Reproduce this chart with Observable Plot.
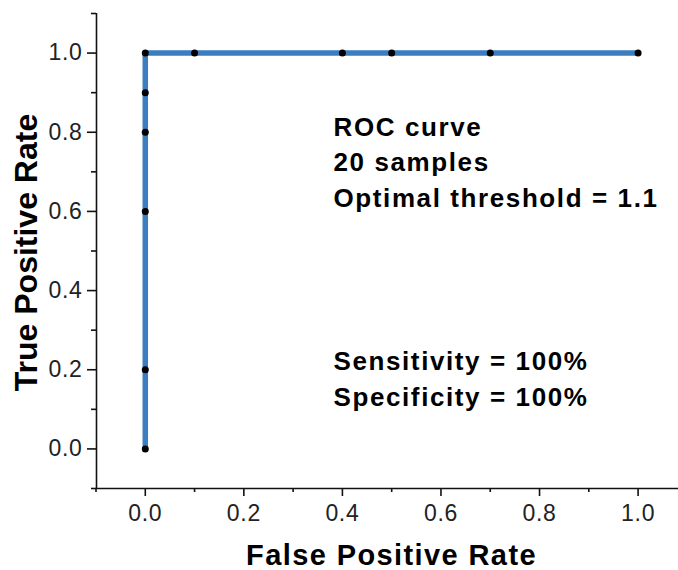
<!DOCTYPE html>
<html>
<head>
<meta charset="utf-8">
<script src="https://cdn.jsdelivr.net/npm/d3@7"></script>
<script src="https://cdn.jsdelivr.net/npm/@observablehq/plot@0.6"></script>
<style>
  html, body { margin: 0; padding: 0; background: #fff; }
  svg g[aria-label$="tick label"] text { letter-spacing: 0.7px; }
  svg text[aria-label="x title"] { letter-spacing: 1.4px; }
  svg text[aria-label="annotation"] { letter-spacing: 1.6px; }
</style>
</head>
<body>
<div id="chart"></div>
<script>
// ROC operating points (false positive rate, true positive rate)
const fpr = [0, 0, 0, 0, 0, 0, 0.1, 0.4, 0.5, 0.7, 1.0];
const tpr = [0, 0.2, 0.6, 0.8, 0.9, 1.0, 1.0, 1.0, 1.0, 1.0, 1.0];

// Axis ticks
const majorTicks = [0, 0.2, 0.4, 0.6, 0.8, 1.0];
const minorTicks = [-0.1, 0.1, 0.3, 0.5, 0.7, 0.9, 1.1];
const xDomain = [-0.099, 1.082];
const yDomain = [-0.1, 1.1];

// Text
const xTitle = "False Positive Rate";
const yTitle = "True Positive Rate";
const infoLines = ["ROC curve", "20 samples", "Optimal threshold = 1.1"];
const resultLines = ["Sensitivity = 100%", "Specificity = 100%"];

const points = fpr.map((x, i) => ({fpr: x, tpr: tpr[i]}));
const font = "'Liberation Sans', Arial, Helvetica, sans-serif";
const fmt = d3.format(".1f");

const chart = Plot.plot({
  width: 678,
  height: 570,
  marginLeft: 96,
  marginRight: 0,
  marginTop: 13,
  marginBottom: 82,
  style: {fontFamily: font, fontSize: "23px", background: "#fff", color: "#111", overflow: "visible"},
  x: {domain: xDomain},
  y: {domain: yDomain},
  marks: [
    // axis lines
    Plot.ruleX([xDomain[0]], {stroke: "#111", strokeWidth: 1.6}),
    Plot.ruleY([yDomain[0]], {stroke: "#111", strokeWidth: 1.6}),
    // major and minor ticks
    Plot.axisX(majorTicks, {tickSize: 8, tickPadding: 8, tickFormat: fmt, fontSize: 23, label: null, strokeWidth: 1.6, fill: "#222"}),
    Plot.axisX(minorTicks, {tickSize: 4, tickFormat: () => "", label: null, strokeWidth: 1.6}),
    Plot.axisY(majorTicks, {tickSize: 9, tickPadding: 5, tickFormat: fmt, fontSize: 23, label: null, strokeWidth: 1.6, fill: "#222"}),
    Plot.axisY(minorTicks, {tickSize: 5, tickFormat: () => "", label: null, strokeWidth: 1.6}),
    // ROC curve
    Plot.line(points, {x: "fpr", y: "tpr", stroke: "#3a7dc0", strokeWidth: 5.5, strokeLinejoin: "miter", strokeLinecap: "butt"}),
    Plot.dot(points, {x: "fpr", y: "tpr", r: 3.5, fill: "#000", stroke: "none"}),
    // axis titles
    Plot.text([xTitle], {text: d => d, frameAnchor: "bottom", textAnchor: "middle", lineAnchor: "bottom", dx: 4, dy: 76,
      fontSize: 29, fontWeight: "bold", fill: "#000", ariaLabel: () => "x title"}),
    Plot.text([yTitle], {text: d => d, frameAnchor: "left", textAnchor: "middle", rotate: -90, lineAnchor: "bottom", dx: -60, dy: 1.5,
      fontSize: 32, fontWeight: "bold", fill: "#000", ariaLabel: () => "y title"}),
    // annotations
    Plot.text([infoLines.join("\n")], {text: d => d, frameAnchor: "top-left", textAnchor: "start", lineAnchor: "bottom",
      lineHeight: 1.365, dx: 237, dy: 193, fontSize: 26, fontWeight: "bold", fill: "#000", ariaLabel: () => "annotation"}),
    Plot.text([resultLines.join("\n")], {text: d => d, frameAnchor: "top-left", textAnchor: "start", lineAnchor: "bottom",
      lineHeight: 1.365, dx: 237, dy: 392, fontSize: 26, fontWeight: "bold", fill: "#000", ariaLabel: () => "annotation"})
  ]
});

document.getElementById("chart").append(chart);
</script>
</body>
</html>
